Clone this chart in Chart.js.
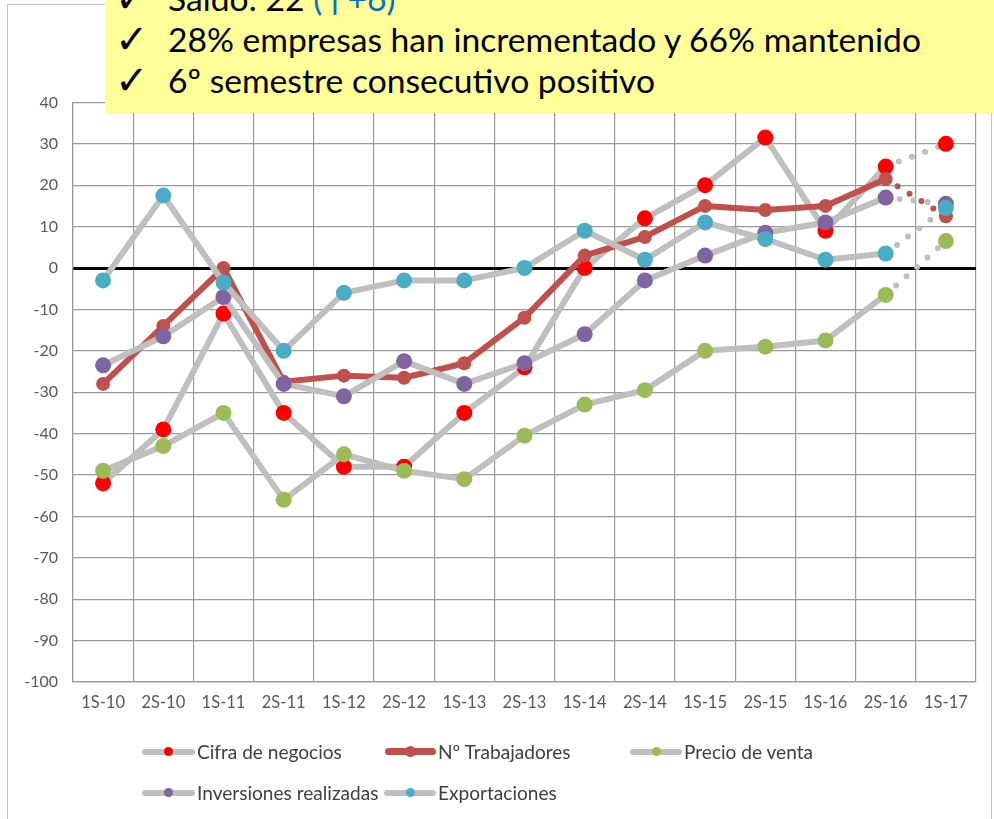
<!DOCTYPE html>
<html>
<head>
<meta charset="utf-8">
<script src="https://cdn.jsdelivr.net/npm/chart.js@4.4.1/dist/chart.umd.min.js"></script>
<style>
html,body{margin:0;padding:0;background:#fff;width:994px;height:819px;overflow:hidden;position:relative;}
#frame{position:absolute;left:7px;top:4px;width:985px;height:900px;border:1px solid #C4C4C4;box-sizing:border-box;}
#c{position:absolute;left:0;top:0;}
#note{position:absolute;left:105px;top:-10px;width:889px;height:123px;background:#FFFF99;}
.t{position:absolute;white-space:nowrap;color:#000;font-family:Lato,"Open Sans",sans-serif;}
.chk{position:absolute;white-space:nowrap;color:#000;font-family:"DejaVu Sans",sans-serif;}
.blue{color:#0070C0;}
.lg{position:absolute;white-space:nowrap;color:#404040;font-family:Lato,"Open Sans",sans-serif;}
.sym{position:absolute;border-radius:4px;}
.dot{position:absolute;border-radius:50%;}
</style>
</head>
<body>
<div id="frame"></div>
<canvas id="c" width="994" height="819"></canvas>
<div id="note"></div>
<div id="overlay"></div>
<script>
// ---------- data ----------
const categories = ['1S-10','2S-10','1S-11','2S-11','1S-12','2S-12','1S-13','2S-13','1S-14','2S-14','1S-15','2S-15','1S-16','2S-16','1S-17'];
const cifraNegocios  = [-52, -39, -11, -35, -48, -48, -35, -24,   0,  12,  20, 31.5,  9, 24.5, 30];
const trabajadores   = [-28, -14,   0, -27.5, -26, -26.5, -23, -12, 3, 7.5, 15,  14,  15, 21.5, 12.5];
const precioVenta    = [-49, -43, -35, -56, -45, -49, -51, -40.5, -33, -29.5, -20, -19, -17.5, -6.5, 6.5];
const inversiones    = [-23.5, -16.5, -7, -28, -31, -22.5, -28, -23, -16, -3, 3, 8.5, 11, 17, 15.5];
const exportaciones  = [-3, 17.5, -3.5, -20, -6, -3, -3, 0, 9, 2, 11, 7, 2, 3.5, 14.5];
const seriesNames = ['Cifra de negocios','Nº Trabajadores','Precio de venta','Inversiones realizadas','Exportaciones'];
const yMin = -100, yMax = 40, yStep = 10;
const noteLines = ['Saldo: 22 ', '(↑+6)', '28% empresas han incrementado y 66% mantenido', '6º semestre consecutivo positivo'];

// ---------- colours ----------
const GRAY = '#BFBFBF';
const colCifra = '#FF0000', colTrab = '#C0504D', colPrecio = '#9BBB59', colInv = '#8064A2', colExp = '#4BACC6';
const last = categories.length - 1;

function ds(label, data, lineColor, pointColor, order, radius, width){
  return {
    label, data, order,
    borderColor: lineColor, borderWidth: width,
    pointRadius: radius, pointHoverRadius: radius,
    pointBackgroundColor: pointColor, pointBorderColor: pointColor, pointBorderWidth: 0,
    tension: 0, fill: false, borderCapStyle: 'round', borderJoinStyle: 'round',
    segment: {
      borderDash: ctx => ctx.p1DataIndex === last ? [0, 14] : undefined,
      borderWidth: ctx => ctx.p1DataIndex === last ? 6 : undefined
    }
  };
}

const gridCol = '#9A9A9A';
new Chart(document.getElementById('c'), {
  type: 'line',
  data: {
    labels: categories,
    datasets: [
      ds(seriesNames[0], cifraNegocios, GRAY, colCifra, 4, 8, 6),
      ds(seriesNames[1], trabajadores, colTrab, colTrab, 3, 7, 6),
      ds(seriesNames[2], precioVenta, GRAY, colPrecio, 2, 8, 6),
      ds(seriesNames[3], inversiones, GRAY, colInv, 1, 8, 6),
      ds(seriesNames[4], exportaciones, GRAY, colExp, 0, 8, 6)
    ]
  },
  options: {
    responsive: false, animation: false, devicePixelRatio: 1,
    layout: { padding: { left: 0, right: 18, top: 102.4, bottom: 97 } },
    plugins: { legend: { display: false }, tooltip: { enabled: false }, title: { display: false } },
    scales: {
      x: {
        offset: true,
        grid: { offset: true, color: gridCol, lineWidth: 1.2, drawTicks: false },
        border: { color: gridCol, width: 1.2 },
        ticks: { color: '#595959', font: { family: 'Lato', size: 16.5 }, padding: 11, maxRotation: 0, autoSkip: false },
        afterFit: s => { s.height = 40; }
      },
      y: {
        min: yMin, max: yMax,
        ticks: { stepSize: yStep, color: '#595959', font: { family: 'Lato', size: 16 }, padding: 15 },
        grid: {
          color: c => (c.tick && c.tick.value === 0) ? '#000000' : gridCol,
          lineWidth: c => (c.tick && c.tick.value === 0) ? 3 : 1.2,
          drawTicks: false
        },
        border: { color: gridCol, width: 1.2 },
        afterFit: s => { s.width = 73; }
      }
    }
  }
});

// ---------- text overlay ----------
const mctx = document.createElement('canvas').getContext('2d');
function fitSize(text, family, target){ mctx.font = '100px ' + family; return 100 * target / mctx.measureText(text).width; }
function fm(size, family){ mctx.font = size + 'px ' + family; const m = mctx.measureText('Hg'); return { asc: m.fontBoundingBoxAscent, desc: m.fontBoundingBoxDescent }; }
const overlay = document.getElementById('overlay');
function addText(cls, html, x, baseline, size, family){
  const el = document.createElement('div');
  el.className = cls; el.innerHTML = html;
  const m = fm(size, family);
  el.style.fontSize = size + 'px';
  el.style.fontFamily = family;
  el.style.lineHeight = (m.asc + m.desc) + 'px';
  el.style.left = x + 'px';
  el.style.top = (baseline - m.asc) + 'px';
  overlay.appendChild(el);
  return el;
}

const noteFamily = 'Lato';
const noteSize = fitSize(noteLines[2], noteFamily, 755);
const baselines = [11, 51.7, 93.3];
addText('t', noteLines[0] + '<span class="blue">' + noteLines[1] + '</span>', 168, baselines[0], noteSize, noteFamily);
addText('t', noteLines[2], 168, baselines[1], noteSize, noteFamily);
addText('t', noteLines[3], 168, baselines[2], noteSize, noteFamily);
for (const b of baselines) addText('chk', '✓', 115, b + 1, 40, 'DejaVu Sans');

// legend
const legFamily = 'Lato';
const legSize = fitSize(seriesNames[0], legFamily, 145);
const legendLayout = [
  { name: seriesNames[0], line: GRAY, dot: colCifra, sx: 142, tx: 197, cy: 751.7, bl: 758.5, thick: 6, d: 9 },
  { name: seriesNames[1], line: colTrab, dot: colTrab, sx: 385, tx: 438, cy: 751.7, bl: 758.5, thick: 7, d: 11 },
  { name: seriesNames[2], line: GRAY, dot: colPrecio, sx: 630, tx: 684, cy: 751.7, bl: 758.5, thick: 6, d: 9 },
  { name: seriesNames[3], line: GRAY, dot: colInv, sx: 142, tx: 197, cy: 792.7, bl: 800, thick: 6, d: 9 },
  { name: seriesNames[4], line: GRAY, dot: colExp, sx: 384, tx: 438, cy: 792.7, bl: 800, thick: 6, d: 9 }
];
for (const it of legendLayout){
  const w = it.tx - it.sx - 2;
  const bar = document.createElement('div');
  bar.className = 'sym';
  bar.style.left = it.sx + 'px'; bar.style.top = (it.cy - it.thick/2) + 'px';
  bar.style.width = w + 'px'; bar.style.height = it.thick + 'px';
  bar.style.background = it.line;
  overlay.appendChild(bar);
  const dot = document.createElement('div');
  dot.className = 'dot';
  dot.style.left = (it.sx + w/2 - it.d/2) + 'px'; dot.style.top = (it.cy - it.d/2) + 'px';
  dot.style.width = it.d + 'px'; dot.style.height = it.d + 'px';
  dot.style.background = it.dot;
  overlay.appendChild(dot);
  addText('lg', it.name, it.tx, it.bl, legSize, legFamily);
}
</script>
</body>
</html>
